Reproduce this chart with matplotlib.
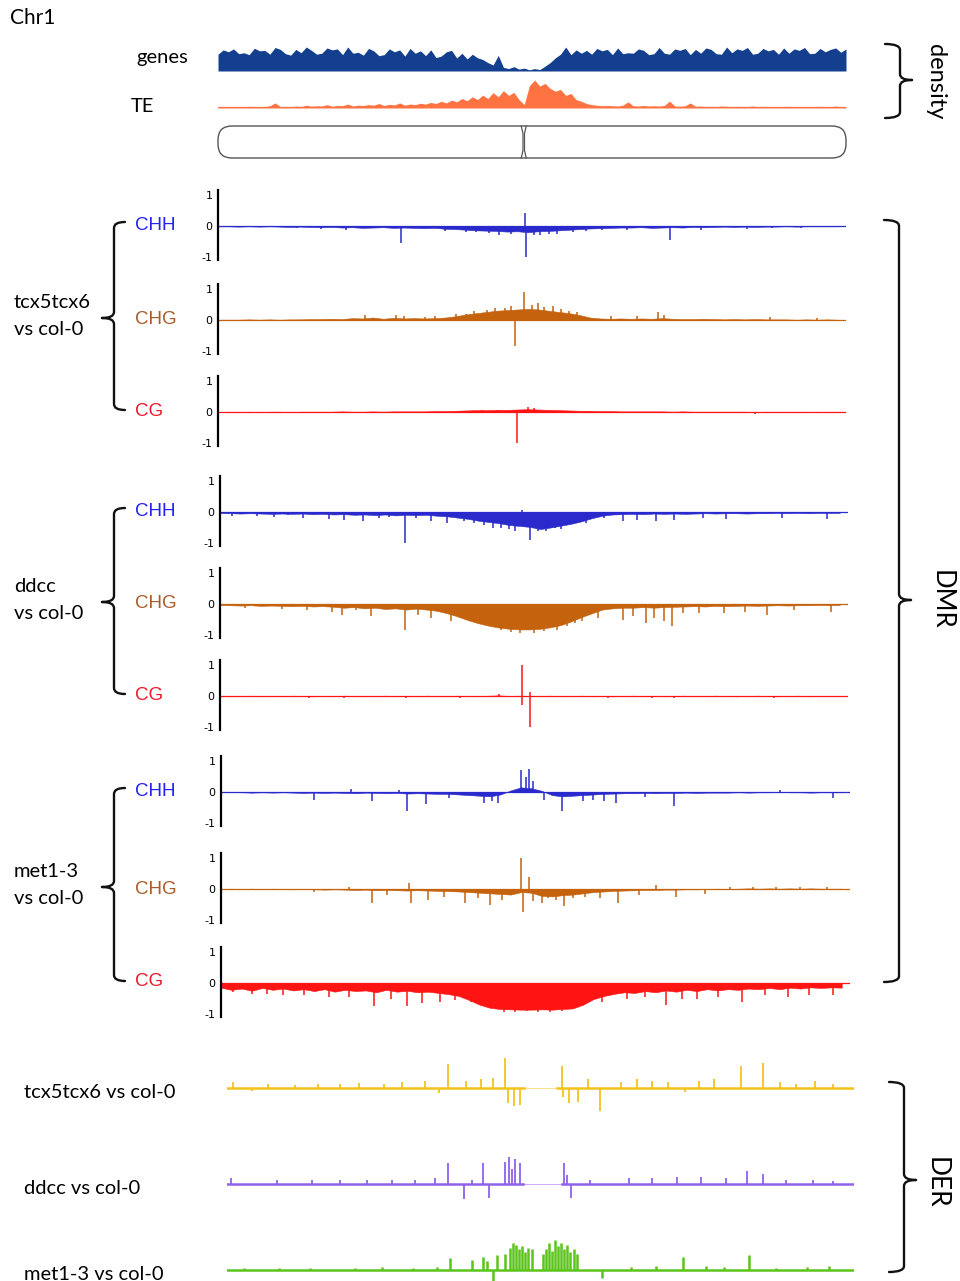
import numpy as np
import matplotlib
matplotlib.use("Agg")
import matplotlib.pyplot as plt
from matplotlib.path import Path
from matplotlib.patches import PathPatch, FancyBboxPatch

W, H = 960, 1281
CHR_LEN = 30.4   # Mb
CEN = 14.8       # centromere, Mb

# ---- density tracks (0.25 Mb bins, relative density) ----
genes = [0.70,0.88,0.80,0.92,0.72,0.76,0.68,0.95,0.84,0.86,
         0.70,0.98,0.90,0.72,0.66,0.90,0.76,1.00,0.86,0.70,
         0.74,0.96,0.88,0.92,0.68,1.00,0.74,0.78,0.66,0.94,
         0.84,0.64,0.68,0.92,0.80,0.88,0.62,0.94,0.74,0.84,
         0.64,0.88,0.56,0.62,0.80,0.86,0.54,0.74,0.50,0.70,
         0.55,0.48,0.35,0.25,0.65,0.15,0.10,0.18,0.08,0.12,
         0.05,0.10,0.06,0.20,0.35,0.55,0.70,1.00,0.68,0.88,0.74,
         0.86,0.70,0.94,0.84,0.90,0.68,0.96,0.72,0.76,0.74,
         0.92,0.86,0.68,0.72,0.98,0.74,0.70,0.92,0.86,0.94,
         0.68,0.90,0.74,0.96,0.90,0.72,0.70,1.00,0.76,0.92,
         0.86,0.98,0.70,0.74,0.94,0.84,0.90,0.70,0.96,0.74,
         0.92,0.86,0.98,0.72,0.74,0.94,0.80,0.90,0.96,0.78,0.92]
te = [0.03,0.04,0.03,0.05,0.04,0.04,0.06,0.05,0.04,0.05,
      0.08,0.18,0.05,0.06,0.04,0.07,0.05,0.10,0.06,0.08,
      0.07,0.12,0.06,0.09,0.08,0.14,0.07,0.10,0.09,0.12,
      0.10,0.16,0.09,0.13,0.11,0.18,0.10,0.14,0.12,0.17,
      0.14,0.20,0.16,0.24,0.18,0.28,0.22,0.34,0.26,0.40,
      0.30,0.46,0.34,0.55,0.40,0.62,0.45,0.56,0.30,0.12,
      0.80,1.00,0.78,0.88,0.70,0.60,0.66,0.45,0.52,0.30,
      0.24,0.16,0.12,0.10,0.08,0.09,
      0.08,0.07,0.10,0.22,0.08,0.07,0.09,0.07,0.08,0.07,
      0.09,0.25,0.07,0.06,0.08,0.18,0.06,0.07,
      0.05,0.06,0.05,0.07,0.06,0.05,0.06,0.04,0.05,0.07,
      0.05,0.06,0.04,0.05,0.04,0.05,0.06,0.04,0.05,0.04,
      0.05,0.04,0.06,0.05,0.04,0.07,0.04,0.05]

# ---- DMR tracks: smoothed level every 0.5 Mb + single-region spikes ----
tcx_chh = [-0.01,-0.01,-0.02,-0.01,-0.02,-0.01,-0.02,-0.03,-0.02,-0.03,
           -0.04,-0.03,-0.05,-0.04,-0.06,-0.05,-0.04,-0.06,-0.05,-0.06,
           -0.07,-0.06,-0.09,-0.10,-0.12,-0.14,-0.15,-0.16,-0.18,-0.17,
           -0.20,-0.17,-0.16,-0.14,-0.12,-0.10,-0.08,-0.07,-0.06,-0.05,
           -0.05,-0.04,-0.06,-0.05,-0.04,-0.05,-0.03,-0.04,-0.03,-0.02,
           -0.03,-0.02,-0.03,-0.02,-0.02,-0.01,-0.02,-0.01,-0.01,-0.01,-0.01]
tcx_chh_spk = [8.85, 14.85, 14.9, 21.9, 5.0, 6.2, 11.0, 12.5, 13.6, 15.6, 16.4, 17.2, 19.8, 23.4, 25.6,
               12.0, 13.1, 14.2, 15.3, 16.0, 17.8, 18.6, 3.8, 26.8, 28.2]
tcx_chh_val = [-0.55, 0.42, -1.0, -0.45, -0.1, -0.12, -0.15, -0.2, -0.28, -0.3, -0.25, -0.2, -0.12, -0.12, -0.1,
               -0.18, -0.22, -0.25, -0.3, -0.25, -0.15, -0.12, -0.08, -0.08, -0.06]

tcx_chg = [0.01,0.01,0.01,0.02,0.01,0.02,0.01,0.02,0.02,0.03,
           0.03,0.04,0.03,0.06,0.05,0.08,0.04,0.07,0.05,0.06,
           0.05,0.06,0.08,0.12,0.18,0.22,0.26,0.30,0.32,0.34,
           0.36,0.34,0.30,0.26,0.22,0.16,0.08,0.05,0.04,0.05,
           0.04,0.05,0.04,0.06,0.04,0.03,0.03,0.04,0.03,0.02,
           0.03,0.02,0.03,0.02,0.02,0.02,0.01,0.02,0.01,0.02,0.01]
tcx_chg_spk = [14.8, 14.4, 7.1, 8.6, 9.0, 12.0, 13.0, 15.5, 16.2, 17.0, 19.0, 20.3, 21.3, 21.6, 26.7, 29.0,
               11.5, 12.4, 13.4, 13.9, 14.2, 15.2, 15.8, 16.6, 17.4, 10.5, 10.0]
tcx_chg_val = [0.9, -0.85, 0.15, 0.15, 0.12, 0.2, 0.32, 0.55, 0.45, 0.3, 0.12, 0.12, 0.25, 0.15, 0.1, 0.05,
               0.2, 0.28, 0.38, 0.4, 0.45, 0.5, 0.42, 0.35, 0.25, 0.12, 0.1]

tcx_cg = [0.0,0.01,0.0,0.01,0.0,0.01,0.01,0.0,0.01,0.01,
          0.01,0.01,0.02,0.01,0.01,0.02,0.01,0.02,0.02,0.02,
          0.02,0.03,0.03,0.04,0.05,0.06,0.06,0.07,0.07,0.08,
          0.09,0.08,0.07,0.06,0.05,0.04,0.04,0.03,0.03,0.02,
          0.02,0.02,0.02,0.02,0.01,0.02,0.01,0.01,0.01,0.01,
          0.01,0.01,0.0,0.01,0.0,0.01,0.0,0.0,0.01,0.0,0.0]
tcx_cg_spk = [14.45, 15.0, 15.3, 13.5, 12.8, 26.0]
tcx_cg_val = [-1.0, 0.15, 0.12, 0.07, 0.06, -0.05]

ddcc_chh = [-0.03,-0.04,-0.05,-0.04,-0.05,-0.06,-0.05,-0.06,-0.05,-0.07,
            -0.06,-0.08,-0.07,-0.09,-0.08,-0.10,-0.08,-0.11,-0.09,-0.10,
            -0.09,-0.12,-0.14,-0.18,-0.22,-0.28,-0.32,-0.36,-0.42,-0.45,
            -0.48,-0.55,-0.50,-0.44,-0.38,-0.30,-0.20,-0.12,-0.08,-0.07,
            -0.06,-0.07,-0.05,-0.06,-0.05,-0.06,-0.05,-0.04,-0.05,-0.04,
            -0.04,-0.05,-0.04,-0.04,-0.03,-0.04,-0.03,-0.04,-0.03,-0.03,-0.03]
ddcc_chh_spk = [8.95, 15.0, 14.6, 0.6, 2.6, 4.0, 5.3, 6.0, 6.9, 7.7, 10.2, 11.0, 12.3, 13.2,
                16.5, 17.7, 18.6, 19.5, 20.2, 21.1, 22.0, 23.4, 24.5, 27.2, 29.4,
                11.8, 12.8, 13.6, 14.0, 14.3, 15.4, 15.8, 16.2, 17.0, 17.4, 3.3, 1.8, 8.2, 9.5]
ddcc_chh_val = [-1.0, -0.9, 0.05, -0.12, -0.15, -0.2, -0.22, -0.25, -0.3, -0.2, -0.3, -0.35, -0.35, -0.5,
                -0.55, -0.35, -0.2, -0.3, -0.25, -0.3, -0.25, -0.2, -0.22, -0.18, -0.22,
                -0.3, -0.42, -0.5, -0.55, -0.6, -0.62, -0.6, -0.52, -0.4, -0.3, -0.1, -0.12, -0.15, -0.18]

ddcc_chg = [-0.03,-0.04,-0.05,-0.04,-0.06,-0.05,-0.06,-0.07,-0.06,-0.08,
            -0.07,-0.09,-0.12,-0.10,-0.14,-0.12,-0.16,-0.14,-0.18,-0.15,
            -0.18,-0.22,-0.30,-0.40,-0.52,-0.62,-0.70,-0.76,-0.80,-0.82,
            -0.82,-0.80,-0.75,-0.68,-0.56,-0.42,-0.30,-0.18,-0.14,-0.12,
            -0.12,-0.10,-0.12,-0.10,-0.09,-0.08,-0.07,-0.08,-0.06,-0.07,
            -0.06,-0.05,-0.06,-0.05,-0.04,-0.05,-0.04,-0.04,-0.03,-0.04,-0.03]
ddcc_chg_spk = [8.95, 5.9, 7.3, 6.6, 3.0, 1.2, 10.2, 11.2, 12.0, 19.5, 20.0, 20.6, 21.0, 21.5, 21.9,
                23.2, 24.4, 26.5, 29.6, 17.5, 18.3,
                11.6, 12.5, 13.1, 13.6, 14.1, 14.5, 15.2, 15.7, 16.3, 16.8, 17.2, 4.2, 5.4, 9.6,
                22.4, 25.4, 27.8]
ddcc_chg_val = [-0.85, -0.35, -0.4, -0.2, -0.15, -0.12, -0.45, -0.55, -0.5, -0.5, -0.4, -0.6, -0.45, -0.55, -0.7,
                -0.3, -0.3, -0.35, -0.25, -0.55, -0.45,
                -0.45, -0.6, -0.72, -0.85, -0.9, -0.92, -0.92, -0.88, -0.85, -0.72, -0.6, -0.2, -0.25, -0.35,
                -0.3, -0.25, -0.2]

ddcc_cg = [0.0,-0.01,0.0,0.01,-0.01,0.0,-0.01,0.01,0.0,-0.01,
           0.0,-0.01,0.01,0.0,-0.01,0.0,0.01,-0.01,0.0,-0.01,
           0.01,0.0,-0.01,0.01,0.0,-0.01,0.01,0.02,0.0,0.01,
           -0.01,0.0,0.01,-0.01,0.0,0.01,-0.01,0.0,-0.01,0.0,
           0.01,-0.01,0.0,-0.01,0.0,0.01,-0.01,0.0,0.01,0.0,
           -0.01,0.0,0.01,0.0,-0.01,0.0,0.01,-0.01,0.0,0.0,0.0]
ddcc_cg_spk = [14.6, 14.62, 15.0, 15.02, 9.0, 11.6, 13.5, 18.8, 20.9, 22.0, 26.8, 29.2, 4.3, 6.0]
ddcc_cg_val = [1.0, -0.3, -1.0, 0.12, -0.08, -0.06, 0.06, -0.06, -0.05, -0.07, -0.06, -0.04, -0.05, -0.06]

met_chh = [-0.01,0.0,-0.01,-0.02,-0.01,-0.02,-0.01,-0.02,-0.03,-0.02,
           -0.03,-0.02,-0.03,-0.04,-0.02,-0.03,-0.04,-0.03,-0.05,-0.04,
           -0.05,-0.06,-0.06,-0.08,-0.10,-0.12,-0.14,-0.08,0.05,0.15,
           0.12,0.04,-0.10,-0.14,-0.12,-0.10,-0.08,-0.06,-0.05,-0.04,
           -0.04,-0.03,-0.04,-0.03,-0.03,-0.02,-0.03,-0.02,-0.02,-0.02,
           -0.01,-0.02,-0.01,-0.01,0.01,-0.01,-0.01,-0.02,-0.01,-0.01,-0.01]
met_chh_spk = [14.5, 14.75, 14.9, 15.1, 9.0, 9.9, 7.3, 4.5, 12.7, 13.1, 13.4, 16.5, 17.5, 18.0,
               18.5, 19.1, 21.9, 29.6, 6.3, 8.6, 27.0, 11.0, 15.6, 20.5]
met_chh_val = [0.7, 0.5, 0.75, 0.35, -0.6, -0.4, -0.3, -0.25, -0.35, -0.3, -0.35, -0.6, -0.3, -0.25,
               -0.3, -0.35, -0.45, -0.2, 0.1, 0.08, 0.05, -0.2, -0.25, -0.15]

met_chg = [0.0,0.01,0.0,0.01,-0.01,0.01,0.0,-0.01,0.0,-0.01,
           -0.02,-0.01,-0.02,-0.03,-0.02,-0.04,-0.03,-0.04,-0.05,-0.04,
           -0.05,-0.06,-0.07,-0.08,-0.10,-0.12,-0.14,-0.16,-0.18,-0.10,
           -0.12,-0.22,-0.24,-0.20,-0.18,-0.14,-0.10,-0.08,-0.06,-0.05,
           -0.04,-0.03,-0.03,-0.02,-0.02,-0.01,-0.01,0.0,0.01,0.0,
           0.01,0.02,0.01,0.02,0.01,0.02,0.01,0.02,0.01,0.01,0.01]
met_chg_spk = [14.5, 14.9, 9.1, 7.3, 9.2, 10.0, 11.8, 13.0, 14.6, 16.6, 15.8, 16.2, 19.2, 22.0,
               4.5, 6.2, 21.0, 26.8, 12.4, 13.6, 15.1, 15.5, 17.0, 17.6, 18.3, 20.2, 23.4, 8.0, 10.8,
               24.6, 25.7, 28.0, 29.3]
met_chg_val = [1.0, 0.4, 0.2, -0.45, -0.45, -0.35, -0.45, -0.5, -0.75, -0.55, -0.3, -0.35, -0.45, -0.25,
               -0.1, 0.08, 0.12, 0.08, -0.3, -0.35, -0.4, -0.45, -0.3, -0.25, -0.3, -0.2, -0.15, -0.2, -0.25,
               0.06, 0.08, 0.07, 0.06]

met_cg = [-0.15,-0.22,-0.18,-0.25,-0.16,-0.22,-0.18,-0.24,-0.20,-0.26,
          -0.20,-0.28,-0.22,-0.26,-0.24,-0.30,-0.22,-0.28,-0.25,-0.30,
          -0.28,-0.32,-0.36,-0.42,-0.55,-0.70,-0.80,-0.84,-0.85,-0.86,
          -0.86,-0.85,-0.86,-0.84,-0.82,-0.70,-0.52,-0.42,-0.35,-0.30,
          -0.32,-0.26,-0.30,-0.24,-0.28,-0.22,-0.26,-0.20,-0.24,-0.20,
          -0.22,-0.18,-0.20,-0.16,-0.20,-0.15,-0.18,-0.14,-0.16,-0.14,-0.15]
met_cg_spk = [7.4, 9.0, 9.7, 10.6, 11.3, 21.5, 25.2, 3.0, 5.2, 18.4, 19.6, 23.0, 27.4, 29.6, 1.5,
              12.1, 13.0, 13.7, 14.2, 14.8, 15.3, 15.9, 16.5, 17.1, 0.6, 2.2, 4.0, 6.2, 8.2, 12.6,
              20.5, 22.3, 24.0, 26.3, 28.4]
met_cg_val = [-0.75, -0.75, -0.65, -0.6, -0.55, -0.7, -0.6, -0.4, -0.45, -0.6, -0.5, -0.5, -0.45, -0.4, -0.35,
              -0.6, -0.82, -0.92, -0.95, -0.9, -0.95, -0.92, -0.9, -0.75, -0.3, -0.35, -0.38, -0.45, -0.5, -0.7,
              -0.45, -0.5, -0.45, -0.4, -0.38]

# ---- DER tracks: spikes (Mb, value) ----
der_tcx_spk = [10.7, 13.5, 13.6, 13.9, 14.2, 16.25, 16.3, 16.6, 17.0, 18.1, 24.9, 26.0, 23.6,
               0.3, 1.2, 2.0, 3.3, 4.4, 5.5, 6.4, 7.6, 8.5, 9.6, 10.3, 11.6, 12.3, 12.9,
               17.5, 19.1, 19.9, 20.6, 21.4, 22.2, 22.9, 26.8, 27.6, 28.5, 29.4]
der_tcx_val = [0.8, 1.0, -0.5, -0.6, -0.55, 0.75, -0.3, -0.5, -0.45, -0.75, 0.75, 0.85, 0.3,
               0.2, -0.1, 0.12, 0.1, 0.15, 0.12, 0.18, 0.15, 0.2, 0.22, -0.15, 0.25, 0.3, 0.35,
               0.3, 0.2, 0.3, 0.22, 0.2, -0.12, 0.25, 0.2, 0.15, 0.22, 0.12]

der_ddcc_spk = [10.7, 11.5, 12.4, 12.7, 13.5, 13.65, 13.95, 14.2, 13.8, 16.35, 16.7, 16.5, 25.2, 26.0,
                19.5, 0.2, 2.4, 4.1, 5.5, 6.8, 8.0, 9.1, 10.1, 11.9, 17.6, 20.6, 21.8, 23.0,
                24.2, 27.1, 28.4, 29.4]
der_ddcc_val = [0.7, -0.5, 0.7, -0.45, 0.75, 0.9, 0.85, 0.7, 0.5, 0.7, -0.45, 0.3, 0.45, 0.35,
                0.2, 0.2, 0.12, 0.12, 0.15, 0.15, 0.12, 0.12, 0.2, 0.15, 0.12, 0.2, 0.25, 0.22,
                0.2, 0.12, 0.15, 0.1]

der_met_spk = [10.8, 11.9, 12.4, 12.6, 12.9, 13.1, 13.5, 13.7, 13.85, 14.0, 14.15, 14.3, 14.45, 14.6,
               14.8, 15.3, 15.45, 15.6, 15.75, 15.9, 16.05, 16.2, 16.35, 16.5, 16.65, 16.8, 16.95,
               18.2, 22.1, 25.3, 0.8, 2.5, 4.0, 6.2, 7.5, 9.0, 10.2, 19.6, 20.8, 23.2, 24.1, 26.6, 28.1, 29.2]
der_met_val = [0.4, 0.35, 0.45, 0.3, -0.35, 0.5, 0.55, 0.75, 0.9, 0.85, 0.7, 0.8, 0.6, 0.75,
               0.7, 0.55, 0.7, 0.9, 0.65, 1.0, 0.8, 0.9, 0.7, 0.85, 0.6, 0.7, 0.55,
               -0.25, 0.45, 0.5, 0.06, 0.08, 0.06, 0.08, 0.1, 0.08, 0.1, 0.1, 0.12, 0.12, 0.1, 0.08, 0.1, 0.12]
der_gaps = {"tcx": (14.4, 16.0), "ddcc": (14.35, 16.25)}

# colours
C_GENE, C_TE = "#143f8e", "#ff7342"
C_CHH, C_CHG, C_CG = "#2a2acc", "#c4620e", "#ff1414"
T_CHH, T_CHG, T_CG = "#2323f0", "#a95b2a", "#ee1a2a"
C_YEL, C_PUR, C_GRN = "#f4c21c", "#9062ec", "#5cc41a"

LABEL_FONT = ["Lato", "DejaVu Sans"]

fig = plt.figure(figsize=(W / 100, H / 100), dpi=100)


def px_axes(x0, x1, y_top, y_bot, **kw):
    ax = fig.add_axes([x0 / W, 1 - y_bot / H, (x1 - x0) / W, (y_bot - y_top) / H], **kw)
    ax.patch.set_alpha(0)
    return ax


# overlay in pixel coordinates for labels and braces
ov = px_axes(0, W, 0, H)
ov.set_xlim(0, W)
ov.set_ylim(H, 0)
ov.axis("off")


def brace(x, y0, y1, ym, hook, nub, r=6):
    verts = [(x + hook, y0), (x, y0), (x, y0 + r), (x, ym - r), (x, ym), (x + nub, ym),
             (x + nub, ym), (x, ym), (x, ym + r), (x, y1 - r), (x, y1), (x + hook, y1)]
    codes = [Path.MOVETO, Path.CURVE3, Path.CURVE3, Path.LINETO, Path.CURVE3, Path.CURVE3,
             Path.MOVETO, Path.CURVE3, Path.CURVE3, Path.LINETO, Path.CURVE3, Path.CURVE3]
    ov.add_patch(PathPatch(Path(verts, codes), fill=False, lw=1.7, color="#111111",
                           capstyle="round"))


ov.text(10, 18, "Chr1", fontsize=15, family=LABEL_FONT, va="center", ha="left")

# ---- density ----
xs = np.linspace(0, CHR_LEN, len(genes))
ax = px_axes(218, 846, 47, 71)
ax.fill_between(xs, 0, genes, color=C_GENE, lw=0)
ax.set_xlim(0, CHR_LEN)
ax.set_ylim(0, 1)
ax.axis("off")
ov.text(188, 58, "genes", fontsize=14.5, family=LABEL_FONT, ha="right", va="center")

ax = px_axes(218, 846, 80, 108)
ax.fill_between(xs, 0, te, color=C_TE, lw=0)
ax.axhline(0.02, color=C_TE, lw=0.9)
ax.set_xlim(0, CHR_LEN)
ax.set_ylim(0, 1)
ax.axis("off")
ov.text(154, 106, "TE", fontsize=14.5, family=LABEL_FONT, ha="right", va="center")

# chromosome ideogram, x in Mb with equal px scale on both axes
ppm = 628 / CHR_LEN
ax = px_axes(210, 854, 122, 162)
ax.set_xlim(-8 / ppm, CHR_LEN + 8 / ppm)
ax.set_ylim(0, 40 / ppm)
ax.axis("off")
yb, yt = 4 / ppm, 36 / ppm
ax.add_patch(FancyBboxPatch((0, yb), CHR_LEN, yt - yb,
                            boxstyle="round,pad=0,rounding_size=%.3f" % (14 / ppm),
                            fc="white", ec="#555555", lw=1.0))
d = 2.5 / ppm
ax.plot([CEN - d, CEN - 0.3 * d, CEN - 0.3 * d, CEN - d], [yt, yt - 3 * d, yb + 3 * d, yb],
        color="#555555", lw=0.9)
ax.plot([CEN + d, CEN + 0.3 * d, CEN + 0.3 * d, CEN + d], [yt, yt - 3 * d, yb + 3 * d, yb],
        color="#555555", lw=0.9)

brace(900, 44, 118, 80, -15, 12)
ov.text(935, 82, "density", fontsize=17, family=LABEL_FONT, rotation=-90,
        ha="center", va="center")

# ---- DMR ----
env_x = np.linspace(0, 30.0, 61)
dmr_tracks = [
    (tcx_chh, tcx_chh_spk, tcx_chh_val, C_CHH, 218, 846, 226),
    (tcx_chg, tcx_chg_spk, tcx_chg_val, C_CHG, 218, 846, 320),
    (tcx_cg, tcx_cg_spk, tcx_cg_val, C_CG, 218, 846, 412),
    (ddcc_chh, ddcc_chh_spk, ddcc_chh_val, C_CHH, 220, 848, 512),
    (ddcc_chg, ddcc_chg_spk, ddcc_chg_val, C_CHG, 220, 848, 604),
    (ddcc_cg, ddcc_cg_spk, ddcc_cg_val, C_CG, 220, 848, 696),
    (met_chh, met_chh_spk, met_chh_val, C_CHH, 221, 850, 792),
    (met_chg, met_chg_spk, met_chg_val, C_CHG, 221, 850, 889),
    (met_cg, met_cg_spk, met_cg_val, C_CG, 221, 850, 983),
]
unit = 31.0
for env, spk, val, col, x0, x1, y0 in dmr_tracks:
    ax = px_axes(x0, x1, y0 - 38, y0 + 38)
    ax.fill_between(env_x, 0, env, color=col, lw=0.4)
    ax.vlines(spk, 0, val, color=col, lw=1.1)
    ax.axhline(0, color=col, lw=0.9)
    ax.set_xlim(0, CHR_LEN)
    ax.set_ylim(-38 / unit, 38 / unit)
    for s in ["top", "right", "bottom"]:
        ax.spines[s].set_visible(False)
    ax.spines["left"].set_bounds(-34 / unit, 36 / unit)
    ax.spines["left"].set_linewidth(1.6)
    ax.set_xticks([])
    ax.set_yticks([-1, 0, 1])
    ax.set_yticklabels(["-1", "0", "1"])
    ax.tick_params(axis="y", length=0, pad=4, labelsize=8)

groups = [("tcx5tcx6\nvs col-0", 226, 320, 412),
          ("ddcc\nvs col-0", 512, 604, 696),
          ("met1-3\nvs col-0", 792, 889, 983)]
for name, ychh, ychg, ycg in groups:
    ov.text(135, ychh, "CHH", color=T_CHH, fontsize=13.5, family="Liberation Sans", va="center")
    ov.text(135, ychg, "CHG", color=T_CHG, fontsize=13.5, family="Liberation Sans", va="center")
    ov.text(135, ycg - 1, "CG", color=T_CG, fontsize=13.5, family="Liberation Sans", va="center")
    brace(114, ychh - 4, ycg - 2, ychg - 2, 11, -12)
    ov.text(14, ychg - 4, name, fontsize=14.5, family=LABEL_FONT, ha="left", va="center",
            linespacing=1.65)

brace(899, 220, 982, 600, -15, 12)
ov.text(941, 600, "DMR", fontsize=18.5, family=LABEL_FONT, rotation=-90, ha="center", va="center")

# ---- DER ----
der_tracks = [
    ("tcx5tcx6 vs col-0", der_tcx_spk, der_tcx_val, C_YEL, 1088, "tcx"),
    ("ddcc vs col-0", der_ddcc_spk, der_ddcc_val, C_PUR, 1184, "ddcc"),
    ("met1-3 vs col-0", der_met_spk, der_met_val, C_GRN, 1270, None),
]
for name, spk, val, col, y0, gkey in der_tracks:
    ax = px_axes(227, 854, y0 - 34, y0 + 34)
    ax.vlines(spk, 0, val, color=col, lw=1.3 if gkey else 1.8)
    if gkey:
        g0, g1 = der_gaps[gkey]
        ax.plot([0, g0], [0, 0], color=col, lw=1.8)
        ax.plot([g1, CHR_LEN], [0, 0], color=col, lw=1.8)
        ax.plot([g0, g1], [0, 0], color=col, lw=0.6, alpha=0.6)
    else:
        ax.axhline(0, color=col, lw=1.8)
    ax.set_xlim(0, CHR_LEN)
    ax.set_ylim(-34 / 30, 34 / 30)
    ax.axis("off")
    ov.text(24, y0 + 5, name, fontsize=14.5, family=LABEL_FONT, ha="left", va="center")

brace(904, 1082, 1272, 1180, -15, 12)
ov.text(936, 1183, "DER", fontsize=19, family=LABEL_FONT, rotation=-90, ha="center", va="center")

fig.savefig("out.png", dpi=100)
